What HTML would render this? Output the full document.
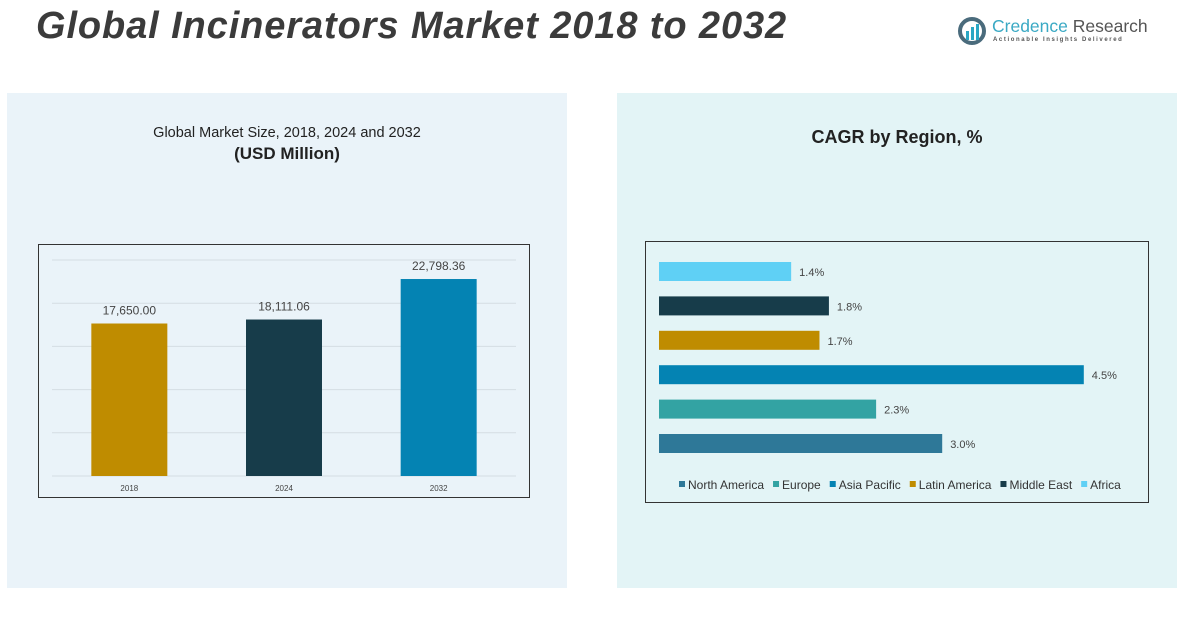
<!DOCTYPE html>
<html><head><meta charset="utf-8">
<style>
body{margin:0;width:1192px;height:632px;background:#fff;position:relative;overflow:hidden;font-family:"Liberation Sans",sans-serif}
.abs{position:absolute}
</style></head><body>
<div class="abs" style="left:36px;top:5px;font-size:38px;font-weight:bold;font-style:italic;color:#3b3b3b;letter-spacing:0.9px;white-space:nowrap">Global Incinerators Market 2018 to 2032</div>
<div class="abs" style="left:958px;top:16px;width:200px;height:30px">
 <svg class="abs" style="left:0;top:0" width="30" height="30"><circle cx="14" cy="15" r="12" fill="none" stroke="#4a6b7c" stroke-width="4"/><rect x="8" y="15" width="3" height="9" fill="#2aa7c4"/><rect x="13" y="11" width="3" height="13" fill="#2aa7c4"/><rect x="18" y="8" width="3" height="16" fill="#2aa7c4"/></svg>
 <div class="abs" style="left:34px;top:0px;font-size:17.5px;color:#3aa9c4;white-space:nowrap">Credence <span style="color:#555">Research</span></div>
 <div class="abs" style="left:35px;top:21px;font-size:6px;letter-spacing:1.6px;color:#555;white-space:nowrap;font-weight:bold">Actionable Insights Delivered</div>
</div>
<div class="abs" style="left:7px;top:93px;width:560px;height:495px;background:#eaf3f9"></div>
<div class="abs" style="left:617px;top:93px;width:560px;height:495px;background:#e3f4f6"></div>
<div class="abs" style="left:7px;top:125px;width:560px;text-align:center;font-size:14.5px;color:#222">Global Market Size, 2018, 2024 and 2032<br><b style="font-size:17px;line-height:26px">(USD Million)</b></div>
<div class="abs" style="left:617px;top:127px;width:560px;text-align:center;font-size:18px;font-weight:bold;color:#222">CAGR by Region, %</div>
<svg class="abs" style="left:0;top:0" width="1192" height="632" id="svg"></svg>
<script>
const years=["2018","2024","2032"];
const marketValues=[17650.00,18111.06,22798.36];
const valueLabels=["17,650.00","18,111.06","22,798.36"];
const barColors=["#bf8c00","#173c4a","#0483b3"];
const regions=["North America","Europe","Asia Pacific","Latin America","Middle East","Africa"];
const cagr=[3.0,2.3,4.5,1.7,1.8,1.4];
const cagrLabels=["3.0%","2.3%","4.5%","1.7%","1.8%","1.4%"];
const regionColors=["#2e7898","#33a3a3","#0483b3","#bf8c00","#173c4a","#5fd0f5"];
const yTicks=[0,5000,10000,15000,20000,25000];
const NS="http://www.w3.org/2000/svg";
const svg=document.getElementById('svg');
function mk(t,a,txt){const e=document.createElementNS(NS,t);for(const k in a)e.setAttribute(k,a[k]);if(txt!==undefined)e.textContent=txt;svg.appendChild(e);return e;}
let f=mk('rect',{x:38.5,y:244.5,width:491,height:253,fill:'none',stroke:'#333','stroke-width':1});


const y0=476,yMax=25000,pH=216,px0=52,pW=464;
const yS=v=>y0-v/yMax*pH;
yTicks.forEach(t=>{const l=mk('line',{x1:px0,x2:px0+pW,y1:yS(t),y2:yS(t),stroke:'#d4dde3','stroke-width':1});

});
const bw=pW/years.length;
years.forEach((y,i)=>{const cx=px0+bw*(i+0.5);const top=yS(marketValues[i]);
const r=mk('rect',{x:cx-38,y:top,width:76,height:y0-top,fill:barColors[i]});


const t=mk('text',{x:cx,y:top-9,'text-anchor':'middle','font-size':12,fill:'#444'},valueLabels[i]);


const xl=mk('text',{x:cx,y:491,'text-anchor':'middle','font-size':8,fill:'#444'},y);

});
f=mk('rect',{x:645.5,y:241.5,width:503,height:261,fill:'none',stroke:'#333','stroke-width':1});


const hx0=659,pxPer=94.4,rowTop=262,pitch=34.4;
regions.forEach((r,i)=>{const row=regions.length-1-i;const y=rowTop+row*pitch;const w=cagr[i]*pxPer;
const b=mk('rect',{x:hx0,y:y,width:w,height:19,fill:regionColors[i]});


const t=mk('text',{x:hx0+w+8,y:y+14,'font-size':11,fill:'#444'},cagrLabels[i]);

});
let lx=679;
regions.forEach((r,i)=>{const s=mk('rect',{x:lx,y:481,width:6,height:6,fill:regionColors[i]});


const t=mk('text',{x:lx+9,y:489,'font-size':12,fill:'#333'},r);


lx+=9+t.getComputedTextLength()+9;});
</script>
</body></html>
